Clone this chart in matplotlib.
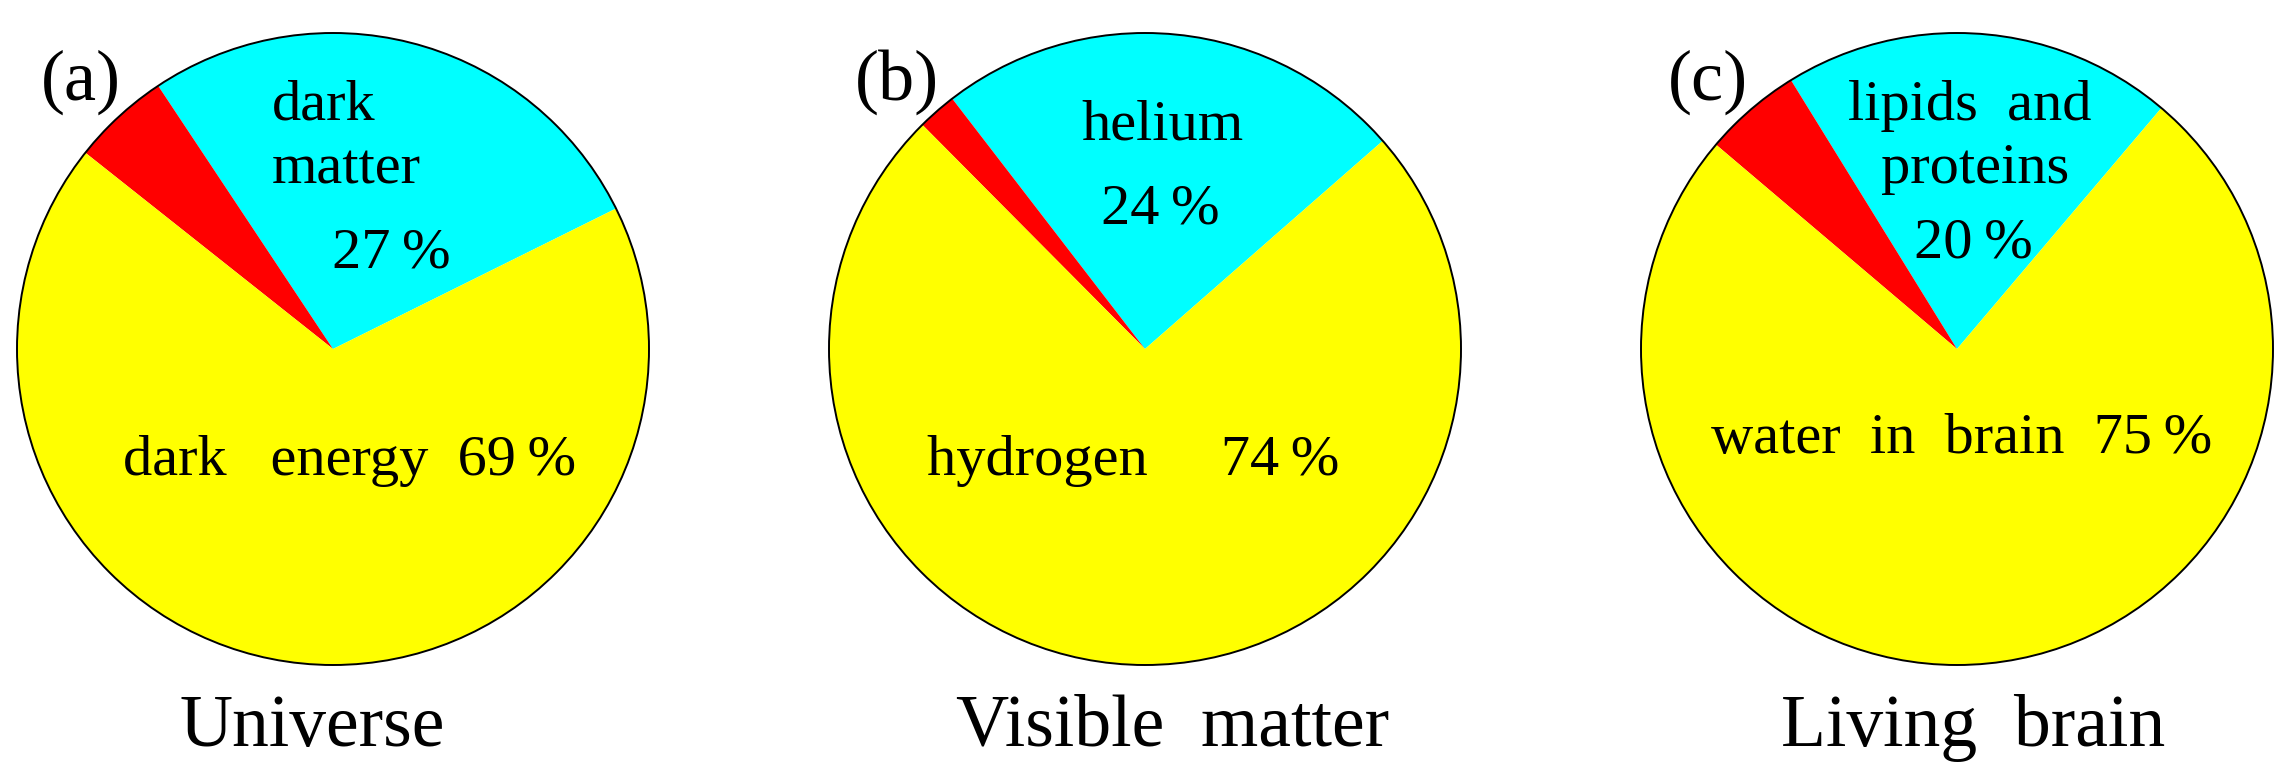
import matplotlib
matplotlib.use("Agg")
import matplotlib.pyplot as plt
from matplotlib.patches import Circle

plt.rcParams['font.family'] = ['Liberation Serif', 'DejaVu Serif']

# wedge shares (%): [cyan, red, yellow]
universe = [27, 5, 68]
visible = [24, 2, 74]
brain = [20, 5, 75]
shares = [universe, visible, brain]

colors = ['#00ffff', '#ff0000', '#ffff00']
start_angles = [26.4, 41.2, 49.7]

titles = ['Universe', 'Visible  matter', 'Living  brain']
tags = ['(a)', '(b)', '(c)']

# label texts inside each pie: (text, x, y baseline, ha) in pixels from top-left
inner_labels = [
    [('dark', 272, 120, 'left'), ('matter', 272, 183, 'left'),
     ('27\u2009%', 391, 267, 'center'), ('dark   energy  69\u2009%', 350, 475, 'center')],
    [('helium', 1162, 140, 'center'), ('24\u2009%', 1160, 223, 'center'),
     ('hydrogen     74\u2009%', 1133, 475, 'center')],
    [('lipids  and', 1970, 120, 'center'), ('proteins', 1975, 183, 'center'),
     ('20\u2009%', 1973, 257, 'center'), ('water  in  brain  75\u2009%', 1962, 453, 'center')],
]

W, H = 2292, 775
centers_x = [333, 1145, 1957]
center_y = 349
radius = 316
title_x = [312, 1173, 1973]
tag_x = [81, 897, 1708]

fig = plt.figure(figsize=(W / 100, H / 100), dpi=100)
ax = fig.add_axes([0, 0, 1, 1])

for i in range(3):
    c = (centers_x[i], H - center_y)
    ax.pie(shares[i], colors=colors, startangle=start_angles[i], center=c,
           radius=radius, frame=True, wedgeprops=dict(linewidth=0, edgecolor='none'))
    ax.add_patch(Circle(c, radius, fill=False, edgecolor='black', linewidth=1.4))

    ax.text(tag_x[i], H - 100, tags[i], fontsize=52, ha='center', va='baseline')
    ax.text(title_x[i], H - 746, titles[i], fontsize=53, ha='center', va='baseline')
    for s, x, y, ha in inner_labels[i]:
        ax.text(x, H - y, s, fontsize=42, ha=ha, va='baseline')

ax.set_xlim(0, W)
ax.set_ylim(0, H)
ax.set_aspect('equal')
ax.axis('off')

fig.savefig('out.png', dpi=100, facecolor='white')
